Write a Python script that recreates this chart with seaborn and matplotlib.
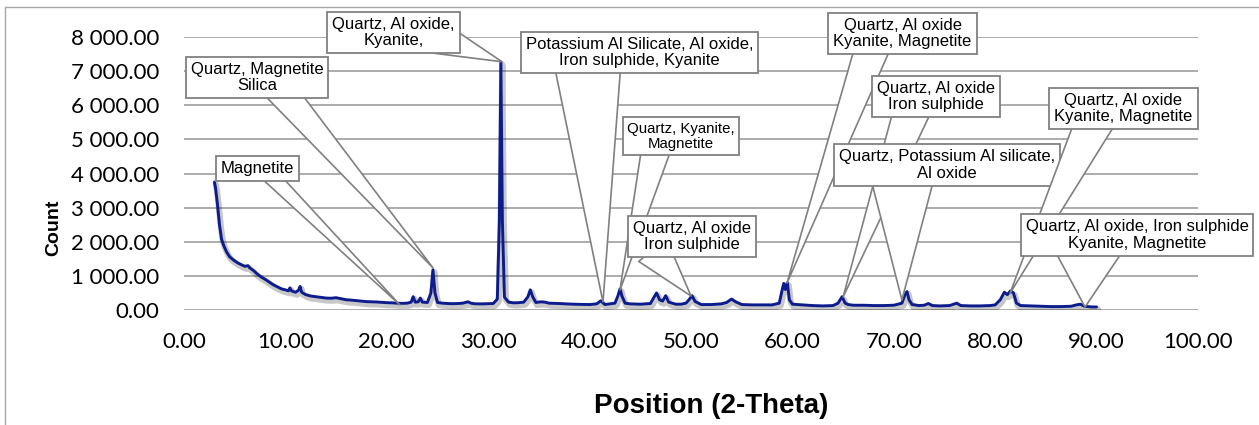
import matplotlib
matplotlib.use("Agg")
import matplotlib.pyplot as plt
import matplotlib.patheffects as pe
from matplotlib.ticker import FuncFormatter
import seaborn as sns
import pandas as pd

# ---------------- data ----------------
two_theta = [
    3.0, 3.1, 3.3, 3.5, 3.7, 3.9, 4.2, 4.5, 4.9, 5.3,
    5.7, 6.0, 6.3, 6.5, 6.8, 7.2, 7.6, 8.0, 8.4, 8.8,
    9.2, 9.6, 10.0, 10.3, 10.45, 10.6, 11.0, 11.3, 11.45, 11.6,
    12.0, 12.5, 13.0, 13.5, 14.0, 14.5, 15.0, 15.5, 16.0, 16.5,
    17.0, 17.5, 18.0, 18.5, 19.0, 19.5, 20.0, 20.5, 21.0, 21.5,
    22.0, 22.4, 22.6, 22.8, 23.1, 23.3, 23.5, 24.0, 24.35, 24.55,
    24.75, 25.0, 25.5, 26.0, 26.5, 27.0, 27.5, 28.0, 28.3, 28.6,
    29.0, 29.5, 30.0, 30.5, 30.9, 31.1, 31.25, 31.4, 31.6, 32.0,
    32.5, 33.0, 33.5, 33.9, 34.15, 34.4, 34.7, 35.2, 35.6, 36.0,
    37.0, 38.0, 39.0, 40.0, 40.7, 41.1, 41.5, 42.0, 42.5, 42.8,
    43.0, 43.2, 43.5, 44.0, 45.0, 46.0, 46.3, 46.6, 46.9, 47.2,
    47.5, 47.8, 48.5, 49.0, 49.5, 49.8, 50.1, 50.4, 51.0, 52.0,
    53.0, 53.5, 54.0, 54.4, 55.0, 56.0, 57.0, 58.0, 58.7, 59.0,
    59.15, 59.3, 59.5, 59.7, 60.0, 61.0, 62.0, 63.0, 64.0, 64.5,
    64.9, 65.2, 65.5, 66.0, 67.0, 68.0, 69.0, 70.0, 70.8, 71.1,
    71.3, 71.5, 71.8, 72.5, 73.0, 73.4, 73.8, 74.5, 75.5, 76.2,
    76.6, 77.5, 78.5, 79.5, 80.0, 80.5, 80.9, 81.2, 81.5, 81.8,
    82.1, 82.5, 83.5, 84.5, 85.5, 86.5, 87.5, 88.0, 88.4, 88.8,
    89.5, 90.0,
]
counts = [
    3750, 3600, 3100, 2500, 2080, 1900, 1700, 1560, 1460, 1380,
    1320, 1280, 1300, 1230, 1170, 1060, 970, 900, 820, 740,
    680, 620, 590, 560, 650, 560, 520, 580, 690, 520,
    450, 410, 390, 370, 350, 345, 360, 330, 300, 290,
    275, 260, 245, 240, 235, 225, 215, 210, 200, 195,
    200, 230, 390, 230, 240, 350, 230, 220, 500, 1180,
    500, 220, 200, 190, 185, 190, 200, 240, 200, 185,
    180, 180, 185, 190, 320, 2600, 7270, 2600, 380, 230,
    210, 215, 230, 380, 590, 380, 220, 240, 230, 200,
    190, 175, 165, 160, 180, 270, 160, 180, 200, 420,
    620, 400, 200, 180, 170, 190, 350, 500, 300, 260,
    420, 230, 170, 170, 200, 300, 420, 250, 160, 160,
    180, 220, 320, 240, 160, 150, 150, 150, 200, 600,
    780, 600, 800, 300, 170, 150, 130, 120, 130, 200,
    390, 200, 160, 140, 140, 130, 130, 140, 200, 450,
    540, 300, 160, 130, 140, 190, 130, 120, 130, 200,
    130, 120, 120, 130, 150, 300, 520, 450, 560, 500,
    200, 130, 120, 110, 100, 100, 110, 150, 170, 110,
    90, 90,
]

x_ticks = [0, 10, 20, 30, 40, 50, 60, 70, 80, 90, 100]
y_ticks = [0, 1000, 2000, 3000, 4000, 5000, 6000, 7000, 8000]

callout_text = [
    "Magnetite",
    "Quartz, Magnetite\nSilica",
    "Quartz, Al oxide,\nKyanite,",
    "Potassium Al Silicate, Al oxide,\nIron sulphide, Kyanite",
    "Quartz, Kyanite,\nMagnetite",
    "Quartz, Al oxide\nIron sulphide",
    "Quartz, Al oxide\nKyanite, Magnetite",
    "Quartz, Al oxide\nIron sulphide",
    "Quartz, Potassium Al silicate,\nAl oxide",
    "Quartz, Al oxide\nKyanite, Magnetite",
    "Quartz, Al oxide, Iron sulphide\nKyanite, Magnetite",
]
# peak positions the callouts point to (2-theta, count)
callout_peak_x = [21.3, 24.56, 31.36, 41.32, 43.0, 50.0, 59.47, 65.0, 70.8, 81.46, 88.86]
callout_peak_y = [147, 1232, 7274, 235, 587, 411, 792, 381, 293, 490, 88]

# ---------------- layout of the callouts (not data) ----------------
box_x = [7.25, 7.20, 20.66, 44.92, 49.01, 50.10, 70.86, 74.16, 75.25, 92.65, 93.98]
box_y = [4135, 6820, 8124, 7553, 5089, 2156, 8095, 6260, 4250, 5910, 2200]
root_x = [7.83, 8.40, 25.25, 39.74, 46.87, 46.2, 68.16, 72.17, 70.85, 90.13, 89.17]
root_y = [4135, 6820, 7957, 7553, 5089, 1760, 7919, 6159, 4106, 5720, 1906]
root_w = [11.9, 22.9, 22.8, 50.4, 22.7, 25.8, 25.4, 27.6, 48.8, 28.4, 54.0]
box_fs = [12, 12, 12, 12, 10.8, 12, 12, 12, 12, 12, 12]

# ---------------- figure ----------------
sns.set_theme(style="white")
plt.rcParams["font.family"] = ["Liberation Sans", "DejaVu Sans"]

W, H = 1259, 425
fig = plt.figure(figsize=(W / 100, H / 100), dpi=100)
ax = fig.add_axes([184 / W, 1 - 310 / H, (1198 - 184) / W, (310 - 37) / H])

# outer chart frame
fig.patches.append(plt.Rectangle((5 / W, -0.1), 1.2, 0.1 + (H - 7) / H,
                                 transform=fig.transFigure, fill=False,
                                 ec="#A6A6A6", lw=1.0, zorder=0))

df = pd.DataFrame({"two_theta": two_theta, "count": counts})
sns.lineplot(data=df, x="two_theta", y="count", ax=ax, color="#0C1C8C",
             lw=2.1, sort=False, estimator=None, zorder=3,
             path_effects=[pe.SimpleLineShadow(offset=(1.0, -1.8), shadow_color="black",
                                               alpha=0.22, linewidth=4.5),
                           pe.Normal()])

ax.set_xlim(0, 100)
ax.set_ylim(0, 8000)
ax.set_xticks(x_ticks)
ax.set_yticks(y_ticks)
ax.xaxis.set_major_formatter(FuncFormatter(lambda v, p: f"{v:.2f}"))
ax.yaxis.set_major_formatter(FuncFormatter(lambda v, p: f"{v:,.2f}".replace(",", " ")))
ax.tick_params(axis="both", length=0, labelsize=16, colors="black")
ax.tick_params(axis="y", pad=18)
ax.tick_params(axis="x", pad=16)
for lab in ax.get_xticklabels() + ax.get_yticklabels():
    lab.set_fontfamily("Lato")

ax.yaxis.grid(True, color="#A6A6A6", lw=1.3)
ax.xaxis.grid(False)
ax.set_axisbelow(True)
for s in ax.spines.values():
    s.set_visible(False)

ax.set_xlabel("Position (2-Theta)", fontsize=20, fontweight="bold", color="black")
ax.xaxis.set_label_coords(0.52, -0.305)
ax.set_ylabel("Count", fontsize=14, fontweight="bold", color="black")
ax.yaxis.set_label_coords(-0.120, 0.30)

# callouts: white wedge pointer + white box
for i, txt in enumerate(callout_text):
    z = 10 + 2 * i
    ax.annotate("", xy=(callout_peak_x[i], callout_peak_y[i]),
                xytext=(root_x[i], root_y[i]),
                arrowprops=dict(arrowstyle=f"wedge,tail_width={root_w[i]},shrink_factor=0.5",
                                mutation_scale=1, fc="white", ec="#808080", lw=1.2,
                                shrinkA=0, shrinkB=0, patchA=None),
                zorder=z, annotation_clip=False)
    ax.text(box_x[i], box_y[i], txt, ha="center", va="center", ma="center",
            fontsize=box_fs[i], linespacing=1.1, color="black", zorder=z + 1,
            bbox=dict(boxstyle="square,pad=0.3", fc="white", ec="#808080", lw=1.3),
            clip_on=False)

fig.savefig("out.png", dpi=100)
